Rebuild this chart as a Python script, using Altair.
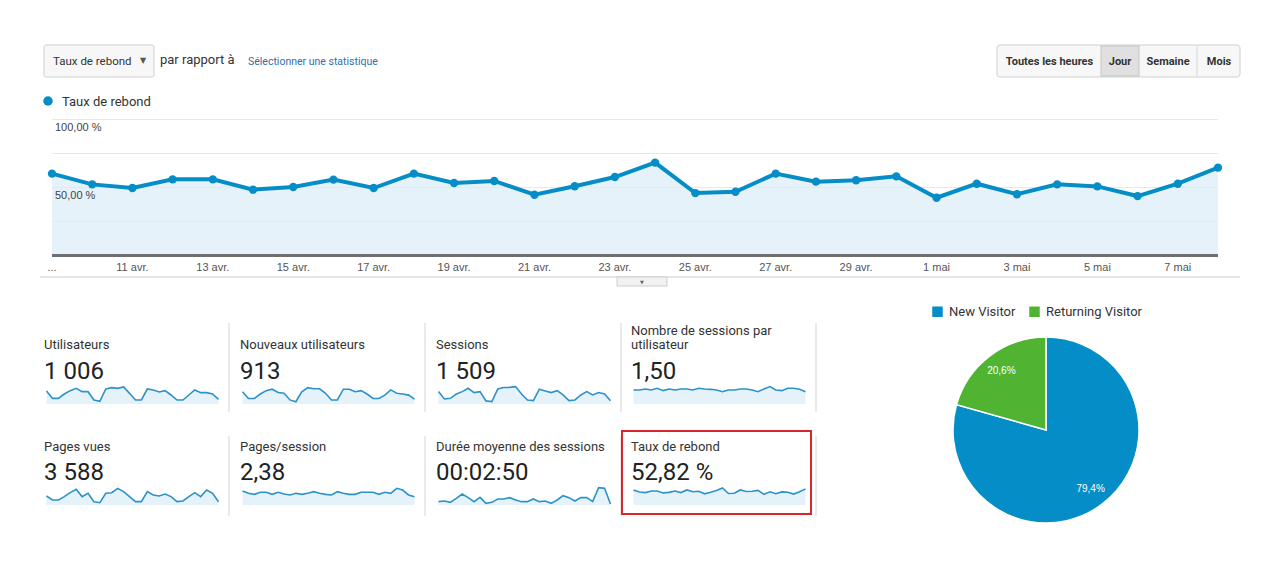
import altair as alt
import pandas as pd

# ---------------- data ----------------
days = ["9 avr.", "10 avr.", "11 avr.", "12 avr.", "13 avr.", "14 avr.", "15 avr.",
        "16 avr.", "17 avr.", "18 avr.", "19 avr.", "20 avr.", "21 avr.", "22 avr.",
        "23 avr.", "24 avr.", "25 avr.", "26 avr.", "27 avr.", "28 avr.", "29 avr.",
        "30 avr.", "1 mai", "2 mai", "3 mai", "4 mai", "5 mai", "6 mai", "7 mai", "8 mai"]

taux_rebond = [60.2, 52.3, 49.6, 56.0, 56.0, 48.4, 50.4, 55.8, 49.6, 60.2,
               53.3, 54.8, 44.7, 50.9, 57.7, 68.3, 45.9, 46.9, 60.2, 54.3,
               55.3, 58.2, 42.5, 52.8, 45.0, 52.3, 50.8, 43.7, 52.8, 64.6]

utilisateurs = [39, 17, 17, 30, 40, 47, 37, 37, 12, 8, 45, 49, 47, 51, 32,
                12, 12, 45, 42, 36, 40, 27, 12, 12, 27, 42, 34, 34, 30, 14]
nouveaux = [33, 15, 15, 27, 36, 40, 31, 29, 11, 6, 33, 44, 41, 41, 29,
            11, 11, 40, 40, 33, 36, 27, 15, 15, 24, 38, 29, 27, 24, 13]
sessions = [52, 21, 24, 42, 52, 66, 48, 52, 13, 10, 63, 69, 70, 73, 42,
            17, 14, 62, 55, 48, 56, 38, 14, 17, 38, 52, 38, 48, 42, 14]
sess_par_util = [1.50, 1.50, 1.61, 1.50, 1.68, 1.43, 1.61, 1.50, 1.61, 1.61,
                 1.50, 1.68, 1.61, 1.57, 1.50, 1.32, 1.50, 1.50, 1.61, 1.61,
                 1.50, 1.32, 1.61, 1.86, 1.50, 1.43, 1.68, 1.68, 1.57, 1.32]
pages_vues = [89, 50, 50, 83, 122, 155, 83, 116, 33, 23, 116, 122, 165, 132, 83,
              33, 33, 132, 99, 89, 109, 83, 33, 40, 83, 122, 83, 149, 116, 33]
pages_session = [2.63, 2.19, 2.00, 2.38, 2.38, 2.00, 2.38, 2.06, 1.88, 2.19,
                 2.00, 2.19, 2.50, 2.19, 2.00, 1.88, 2.50, 2.19, 2.00, 2.00,
                 2.38, 2.38, 2.38, 2.00, 2.38, 2.19, 3.13, 2.81, 1.88, 1.56]
duree_sec = [100, 120, 80, 200, 330, 220, 100, 230, 50, 80, 180, 180, 220, 150, 100,
             100, 180, 100, 120, 50, 150, 280, 220, 120, 220, 220, 100, 520, 500, 30]

tile_titles = ["Utilisateurs", "Nouveaux utilisateurs", "Sessions",
               "Nombre de sessions par\nutilisateur",
               "Pages vues", "Pages/session", "Durée moyenne des sessions", "Taux de rebond"]
tile_values = ["1 006", "913", "1 509", "1,50", "3 588", "2,38", "00:02:50", "52,82 %"]
tile_series = [utilisateurs, nouveaux, sessions, sess_par_util,
               pages_vues, pages_session, duree_sec, taux_rebond]
spark_max = [60, 54, 84, 2.14, 198, 3.75, 600, 80]

y_ticks = [0, 25, 50, 75, 100]
y_tick_labels = {100: "100,00 %", 50: "50,00 %"}
x_tick_days = days[::2]
x_tick_labels = ["..."] + days[2::2]

visitors = ["New Visitor", "Returning Visitor"]
visitor_share = [79.4, 20.6]
visitor_labels = ["79,4%", "20,6%"]

buttons = ["Toutes les heures", "Jour", "Semaine", "Mois"]

# ---------------- helpers ----------------
BLUE = "#058dc7"
FILL = "#e6f2f9"
UI = "Roboto"
CH = "Liberation Sans"


def px(x):
    return x - 8


def py(y):
    return y - 8


one = pd.DataFrame({"k": [0]})
layers = []


def rect(x1, y1, x2, y2, **kw):
    layers.append(alt.Chart(one).mark_rect(**kw).encode(
        x=alt.value(px(x1)), x2=alt.value(px(x2)), y=alt.value(py(y1)), y2=alt.value(py(y2))))


def rule(x1, y1, x2, y2, **kw):
    layers.append(alt.Chart(one).mark_rule(**kw).encode(
        x=alt.value(px(x1)), x2=alt.value(px(x2)), y=alt.value(py(y1)), y2=alt.value(py(y2))))


def text(t, x, y, **kw):
    layers.append(alt.Chart(one).mark_text(**kw).encode(
        x=alt.value(px(x)), y=alt.value(py(y)), text=alt.value(t)))


# ---------------- header ----------------
rect(44, 45, 154, 77, fill="#f7f7f7", stroke="#cfcfcf", strokeWidth=1, cornerRadius=2)
text("Taux de rebond", 53, 61.5, align="left", baseline="middle", font=UI, fontSize=11.5, color="#333")
text("▼", 143, 61, align="center", baseline="middle", font="DejaVu Sans", fontSize=8, color="#555")
text("par rapport à", 160, 60, align="left", baseline="middle", font=UI, fontSize=13, color="#333")
text("Sélectionner une statistique", 248, 61.5, align="left", baseline="middle", font=UI,
     fontSize=10.5, color="#2f6fad")

rect(997, 45, 1240, 77, fill="#f7f7f7", stroke="#cfcfcf", strokeWidth=1, cornerRadius=3)
rect(1101, 46, 1139, 76, fill="#e0e0e0", stroke="#c4c4c4", strokeWidth=1)
for xd in [1197]:
    rule(xd, 46, xd, 76, color="#d8d8d8", strokeWidth=1)
for lab, xc in zip(buttons, [1049.5, 1120, 1168, 1219]):
    text(lab, xc, 61.5, align="center", baseline="middle", font=UI, fontSize=11,
         fontWeight="bold", color="#333")

# legend of main chart
layers.append(alt.Chart(one).mark_circle(size=90, color=BLUE, opacity=1).encode(
    x=alt.value(px(48)), y=alt.value(py(101))))
text("Taux de rebond", 62, 101.5, align="left", baseline="middle", font=UI, fontSize=13, color="#333")

# ---------------- main chart ----------------
main_df = pd.DataFrame({"day": days, "rebond": taux_rebond})
xs = alt.Scale(type="point", domain=days, range=[px(52), px(1218)], padding=0)
ys = alt.Scale(domain=[0, 100], range=[py(255.5), py(119.5)])
X = alt.X("day:O", scale=xs, axis=None)
Y = alt.Y("rebond:Q", scale=ys, axis=None)

grid_df = pd.DataFrame({"v": y_ticks[1:], "start": days[0], "end": days[-1]})
layers.append(alt.Chart(main_df).mark_area(color=FILL, opacity=1).encode(x=X, y=Y))
layers.append(alt.Chart(grid_df).mark_rule(color="#e8e8e8", strokeWidth=1).encode(
    x=alt.X("start:O", scale=xs, axis=None), x2="end:O",
    y=alt.Y("v:Q", scale=ys, axis=None)))
base_df = pd.DataFrame({"v": [y_ticks[0]], "start": [days[0]], "end": [days[-1]]})
layers.append(alt.Chart(base_df).mark_rule(color="#707070", strokeWidth=3).encode(
    x=alt.X("start:O", scale=xs, axis=None), x2="end:O",
    y=alt.Y("v:Q", scale=ys, axis=None)))
ylab_df = pd.DataFrame({"v": list(y_tick_labels.keys()), "lab": list(y_tick_labels.values()),
                        "start": days[0]})
layers.append(alt.Chart(ylab_df).mark_text(align="left", baseline="middle", dx=3, dy=8.5,
                                            font=CH, fontSize=11, color="#444").encode(
    x=alt.X("start:O", scale=xs, axis=None), y=alt.Y("v:Q", scale=ys, axis=None), text="lab:N"))
layers.append(alt.Chart(main_df).mark_line(color=BLUE, strokeWidth=4).encode(x=X, y=Y))
layers.append(alt.Chart(main_df).mark_circle(color=BLUE, size=70, opacity=1).encode(x=X, y=Y))

xt_df = pd.DataFrame({"day": x_tick_days, "lab": x_tick_labels})
layers.append(alt.Chart(xt_df).mark_text(baseline="middle", font=CH, fontSize=11, color="#555").encode(
    x=alt.X("day:O", scale=xs, axis=None), y=alt.value(py(268)), text="lab:N"))

# separator + tab under the chart
rule(40, 277, 1240, 277, color="#dddddd", strokeWidth=1.5)
rect(617, 277, 667, 286, fill="#f2f2f2", stroke="#cccccc", strokeWidth=1)
text("▼", 642, 281.5, align="center", baseline="middle", font="DejaVu Sans", fontSize=5, color="#666")

# ---------------- sparkline tiles ----------------
tile_x = [44, 240, 436, 631]
title_y = [345, 447]
value_y = [372, 473]
spark_y = [(404, 384), (505, 485)]
sep_y = [(323, 412), (436, 516)]
LH = 14

for i, (ttl, val, ser, smax) in enumerate(zip(tile_titles, tile_values, tile_series, spark_max)):
    r, c = divmod(i, 4)
    tx = tile_x[c]
    nlines = ttl.count("\n") + 1
    text(ttl, tx, title_y[r] - LH * (nlines - 1), align="left", baseline="middle", font=UI,
         fontSize=13, color="#333", lineBreak="\n", lineHeight=LH)
    text(val, tx, value_y[r], align="left", baseline="middle", font=UI, fontSize=24, color="#222")
    sdf = pd.DataFrame({"day": days, "v": ser})
    sx = alt.Scale(type="point", domain=days, range=[px(tx + 2.5), px(tx + 174.5)], padding=0)
    sy = alt.Scale(domain=[0, smax], range=[py(spark_y[r][0]), py(spark_y[r][1])])
    SX = alt.X("day:O", scale=sx, axis=None)
    SY = alt.Y("v:Q", scale=sy, axis=None)
    layers.append(alt.Chart(sdf).mark_area(color=FILL, opacity=1).encode(x=SX, y=SY))
    layers.append(alt.Chart(sdf).mark_line(color="#2b93c9", strokeWidth=1.6).encode(x=SX, y=SY))
    sx_sep = tx + 185
    rule(sx_sep, sep_y[r][0], sx_sep, sep_y[r][1], color="#dcdcdc", strokeWidth=1.2)

# highlight box
rect(622, 431, 811, 514, filled=False, stroke="#d7262c", strokeWidth=2)

# ---------------- pie ----------------
pie_df = pd.DataFrame({"visitor": visitors, "share": visitor_share, "lab": visitor_labels,
                       "ord": list(range(len(visitors)))})
color = alt.Color("visitor:N",
                  scale=alt.Scale(domain=visitors, range=[BLUE, "#50b432"]),
                  legend=alt.Legend(orient="none", legendX=px(931), legendY=py(305),
                                    direction="horizontal", title=None, symbolType="square",
                                    symbolSize=110, symbolStrokeWidth=0, labelFont=UI,
                                    labelFontSize=13, labelColor="#333", labelOffset=5,
                                    columnPadding=12, padding=0))
layers.append(alt.Chart(pie_df).mark_arc(outerRadius=93, stroke="white", strokeWidth=1.5).encode(
    theta=alt.Theta("share:Q", stack=True), color=color, order=alt.Order("ord:Q"),
    x=alt.value(px(1046)), y=alt.value(py(430))))
layers.append(alt.Chart(pie_df).mark_text(radius=74, font=CH, fontSize=10, color="white").encode(
    theta=alt.Theta("share:Q", stack=True), order=alt.Order("ord:Q"), text="lab:N",
    x=alt.value(px(1046)), y=alt.value(py(430))))

chart = alt.layer(*layers).resolve_scale(x="independent", y="independent").properties(
    width=1264, height=564, padding=0, background="white",
    autosize=alt.AutoSizeParams(type="none")
).configure_view(stroke=None)

chart.save("out.html", embed_options={"renderer": "svg", "actions": False})
